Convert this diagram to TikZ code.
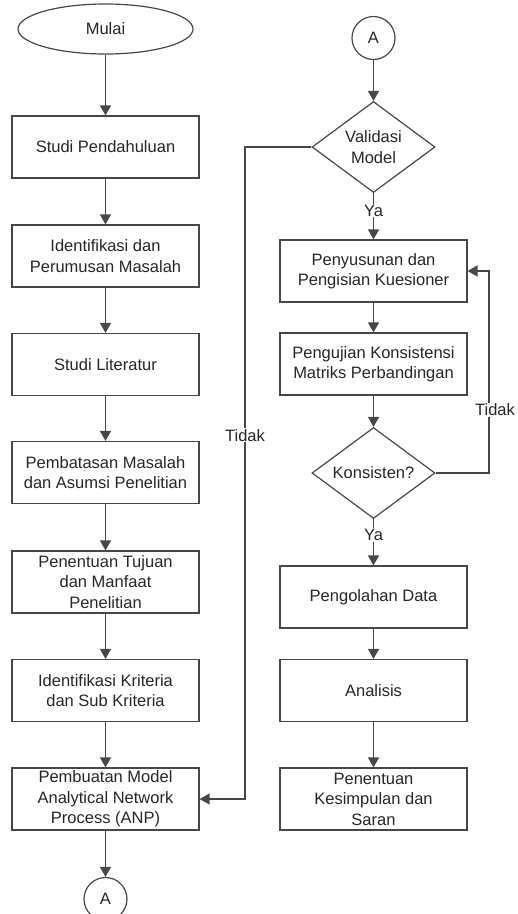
\documentclass[tikz,border=0pt]{standalone}
\usepackage{fontspec}
\setmainfont{Liberation Sans}
\usetikzlibrary{positioning,shapes.geometric,arrows.meta}

\colorlet{linegray}{black!72}
\colorlet{textgray}{black!85}

\tikzset{
    base/.style={draw=linegray, line width=1.2pt, text=textgray, inner sep=0pt, align=center,
        font=\fontsize{16.5}{20.5}\selectfont},
    box/.style={base, rectangle, minimum width=187pt, minimum height=62pt},
    terminal/.style={base, ellipse, minimum width=175pt, minimum height=50pt},
    connector/.style={base, circle, minimum size=43pt},
    decision/.style={base, diamond, aspect=1.35, minimum width=123pt, minimum height=91pt},
    flow/.style={draw=linegray, line width=1.3pt, -{Triangle[width=11pt,length=10pt]}},
    lbl/.style={fill=white, text=textgray, inner sep=1pt, font=\fontsize{16.5}{20.5}\selectfont}
}

\begin{document}
\begin{tikzpicture}[x=1pt, y=-1pt]

    \useasboundingbox (0,0) rectangle (518,914);

    \node[terminal] (mulai) at (105.5,29) {Mulai};
    \node[box] (studi) at (105.5,147) {Studi Pendahuluan};
    \node[box] (identifikasi) at (105.5,256) {Identifikasi dan\\Perumusan Masalah};
    \node[box] (literatur) at (105.5,364.5) {Studi Literatur};
    \node[box] (batasan) at (105.5,472.5) {Pembatasan Masalah\\dan Asumsi Penelitian};
    \node[box] (tujuan) at (105.5,582) {Penentuan Tujuan\\dan Manfaat\\Penelitian};
    \node[box] (kriteria) at (105.5,690.5) {Identifikasi Kriteria\\dan Sub Kriteria};
    \node[box] (model) at (105.5,799) {Pembuatan Model\\Analytical Network\\Process (ANP)};
    \node[connector] (aout) at (105.5,899) {A};

    \node[connector] (ain) at (373.5,38) {A};
    \node[decision] (validasi) at (373.5,147) {Validasi\\Model};
    \node[box] (kuesioner) at (373.5,271) {Penyusunan dan\\Pengisian Kuesioner};
    \node[box] (pengujian) at (373.5,364) {Pengujian Konsistensi\\Matriks Perbandingan};
    \node[decision] (konsisten) at (373.5,473) {Konsisten?};
    \node[box] (olah) at (373.5,597) {Pengolahan Data};
    \node[box] (analisis) at (373.5,690.5) {Analisis};
    \node[box] (simpulan) at (373.5,799) {Penentuan\\Kesimpulan dan\\Saran};

    \coordinate (tidakkiri) at (245,147);
    \coordinate (tidakkanan) at (489,473);

    \draw[flow] (mulai) -- (studi);
    \draw[flow] (studi) -- (identifikasi);
    \draw[flow] (identifikasi) -- (literatur);
    \draw[flow] (literatur) -- (batasan);
    \draw[flow] (batasan) -- (tujuan);
    \draw[flow] (tujuan) -- (kriteria);
    \draw[flow] (kriteria) -- (model);
    \draw[flow] (model) -- (aout);

    \draw[flow] (ain) -- (validasi);
    \draw[flow] (validasi) -- node[lbl, pos=0.38] {Ya} (kuesioner);
    \draw[flow] (kuesioner) -- (pengujian);
    \draw[flow] (pengujian) -- (konsisten);
    \draw[flow] (konsisten) -- node[lbl, pos=0.34] {Ya} (olah);
    \draw[flow] (olah) -- (analisis);
    \draw[flow] (analisis) -- (simpulan);

    \draw[flow] (validasi.west) -- (tidakkiri) |- node[lbl, pos=0.221] {Tidak} (model.east);
    \draw[flow] (konsisten.east) -- (tidakkanan) |- node[lbl, pos=0.156, xshift=6pt] {Tidak} (kuesioner.east);

\end{tikzpicture}
\end{document}
